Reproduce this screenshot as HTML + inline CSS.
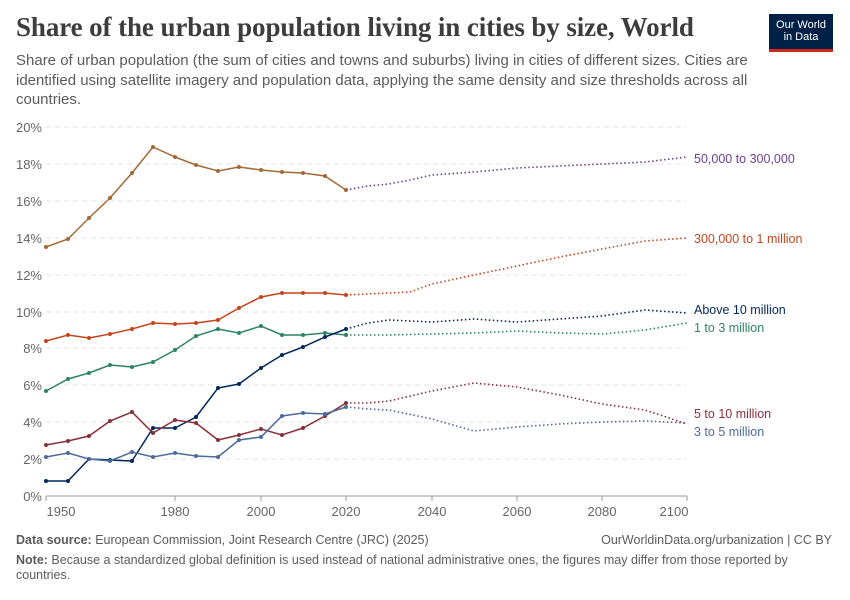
<!DOCTYPE html>
<html><head><meta charset="utf-8"><style>
body{margin:0;background:#fff;font-family:"Liberation Sans",sans-serif;}
.wrap{position:relative;width:850px;height:600px;overflow:hidden;}
h1{position:absolute;left:16px;top:12px;margin:0;font-family:"Liberation Serif",serif;font-size:27px;font-weight:bold;color:#3d3d3d;letter-spacing:-0.1px}
.sub{position:absolute;left:16px;top:51px;width:780px;font-size:15px;line-height:19.5px;color:#5b5b5b}
.logo{position:absolute;left:769px;top:14px;width:64px;height:38px;background:#002147;color:#fff;font-size:11px;line-height:12px;text-align:center;box-sizing:border-box;border-bottom:3px solid #ce261e}
.foot{position:absolute;left:16px;font-size:12.5px;color:#5b5b5b}
polyline.s{marker-start:url(#m);marker-mid:url(#m);marker-end:url(#m)}
</style></head><body><div class="wrap">
<h1>Share of the urban population living in cities by size, World</h1>
<div class="sub">Share of urban population (the sum of cities and towns and suburbs) living in cities of different sizes. Cities are identified using satellite imagery and population data, applying the same density and size thresholds across all countries.</div>
<div class="logo"><div style="padding-top:5px">Our World<br>in Data</div></div>
<svg width="850" height="600" style="position:absolute;left:0;top:0" font-family="Liberation Sans, sans-serif">
<defs><marker id="m" markerWidth="5" markerHeight="5" refX="2.5" refY="2.5" markerUnits="userSpaceOnUse"><circle cx="2.5" cy="2.5" r="2" fill="context-stroke"/></marker></defs>
<g stroke="#e3e3e3" stroke-dasharray="5,4" stroke-width="1">
<line x1="46" x2="687" y1="127" y2="127"/><line x1="46" x2="687" y1="164" y2="164"/><line x1="46" x2="687" y1="201" y2="201"/><line x1="46" x2="687" y1="238" y2="238"/><line x1="46" x2="687" y1="275" y2="275"/><line x1="46" x2="687" y1="312" y2="312"/><line x1="46" x2="687" y1="348" y2="348"/><line x1="46" x2="687" y1="385" y2="385"/><line x1="46" x2="687" y1="422" y2="422"/><line x1="46" x2="687" y1="459" y2="459"/>
</g>
<line x1="46" x2="687" y1="496" y2="496" stroke="#999"/>
<g stroke="#999"><line x1="46" x2="46" y1="496" y2="501"/><line x1="175" x2="175" y1="496" y2="501"/><line x1="261" x2="261" y1="496" y2="501"/><line x1="346" x2="346" y1="496" y2="501"/><line x1="432" x2="432" y1="496" y2="501"/><line x1="517" x2="517" y1="496" y2="501"/><line x1="602" x2="602" y1="496" y2="501"/><line x1="687" x2="687" y1="496" y2="501"/></g>
<g fill="#666" font-size="13" text-anchor="end">
<text x="42" y="132">20%</text><text x="42" y="169">18%</text><text x="42" y="206">16%</text><text x="42" y="243">14%</text><text x="42" y="280">12%</text><text x="42" y="317">10%</text><text x="42" y="353">8%</text><text x="42" y="390">6%</text><text x="42" y="427">4%</text><text x="42" y="464">2%</text><text x="42" y="501">0%</text>
</g>
<g fill="#666" font-size="13" text-anchor="middle">
<text x="61" y="516">1950</text><text x="175" y="516">1980</text><text x="261" y="516">2000</text><text x="346" y="516">2020</text><text x="432" y="516">2040</text><text x="517" y="516">2060</text><text x="602" y="516">2080</text><text x="674" y="516">2100</text>
</g>
<g fill="none" stroke-width="1.6" stroke-dasharray="1.5,2.5">
<polyline stroke="#6d3e91" points="346,190 368,186 389,184 410,180 432,175 474,172 517,168 560,166 602,164 645,162 687,157"/>
<polyline stroke="#c4451c" points="346,295 389,293 410,292 432,284 474,275 517,266 560,257 602,249 645,241 687,238"/>
<polyline stroke="#2c8465" points="346,335 389,335 432,334 474,333 517,331 560,333 602,334 645,330 687,323"/>
<polyline stroke="#00295b" points="346,329 368,323 389,320 432,322 474,319 517,322 560,319 602,316 645,310 687,313"/>
<polyline stroke="#883039" points="346,403 368,403 389,401 432,391 474,383 517,387 560,395 602,404 645,410 687,424"/>
<polyline stroke="#4c6a9c" points="346,407 368,409 389,410 432,419 474,431 517,427 560,424 602,422 645,421 687,423"/>
</g>
<g fill="none" stroke-width="1.5">
<polyline class="s" stroke="#a26a36" points="46,247 68,239 89,218 110,198 132,173 153,147 175,157 196,165 218,171 239,167 261,170 282,172 303,173 325,176 346,190"/>
<polyline class="s" stroke="#c4451c" points="46,341 68,335 89,338 110,334 132,329 153,323 175,324 196,323 218,320 239,308 261,297 282,293 303,293 325,293 346,295"/>
<polyline class="s" stroke="#2c8465" points="46,391 68,379 89,373 110,365 132,367 153,362 175,350 196,336 218,329 239,333 261,326 282,335 303,335 325,333 346,335"/>
<polyline class="s" stroke="#00295b" points="46,481 68,481 89,459 110,460 132,461 153,428 175,428 196,417 218,388 239,384 261,368 282,355 303,347 325,337 346,329"/>
<polyline class="s" stroke="#883039" points="46,445 68,441 89,436 110,421 132,412 153,433 175,420 196,423 218,440 239,435 261,429 282,435 303,428 325,416 346,403"/>
<polyline class="s" stroke="#4c6a9c" points="46,457 68,453 89,459 110,461 132,452 153,457 175,453 196,456 218,457 239,440 261,437 282,416 303,413 325,414 346,407"/>
</g>
<g font-size="12.5">
<text x="694" y="163" fill="#6d3e91">50,000 to 300,000</text>
<text x="694" y="243" fill="#c4451c">300,000 to 1 million</text>
<text x="694" y="314" fill="#00295b">Above 10 million</text>
<text x="694" y="332" fill="#2c8465">1 to 3 million</text>
<text x="694" y="418" fill="#883039">5 to 10 million</text>
<text x="694" y="436" fill="#4c6a9c">3 to 5 million</text>
</g>
</svg>
<div class="foot" style="top:533px"><b>Data source:</b> European Commission, Joint Research Centre (JRC) (2025)</div>
<div class="foot" style="top:533px;left:auto;right:18px">OurWorldinData.org/urbanization | CC BY</div>
<div class="foot" style="top:553px;width:800px;line-height:15px"><b>Note:</b> Because a standardized global definition is used instead of national administrative ones, the figures may differ from those reported by countries.</div>
</div></body></html>
